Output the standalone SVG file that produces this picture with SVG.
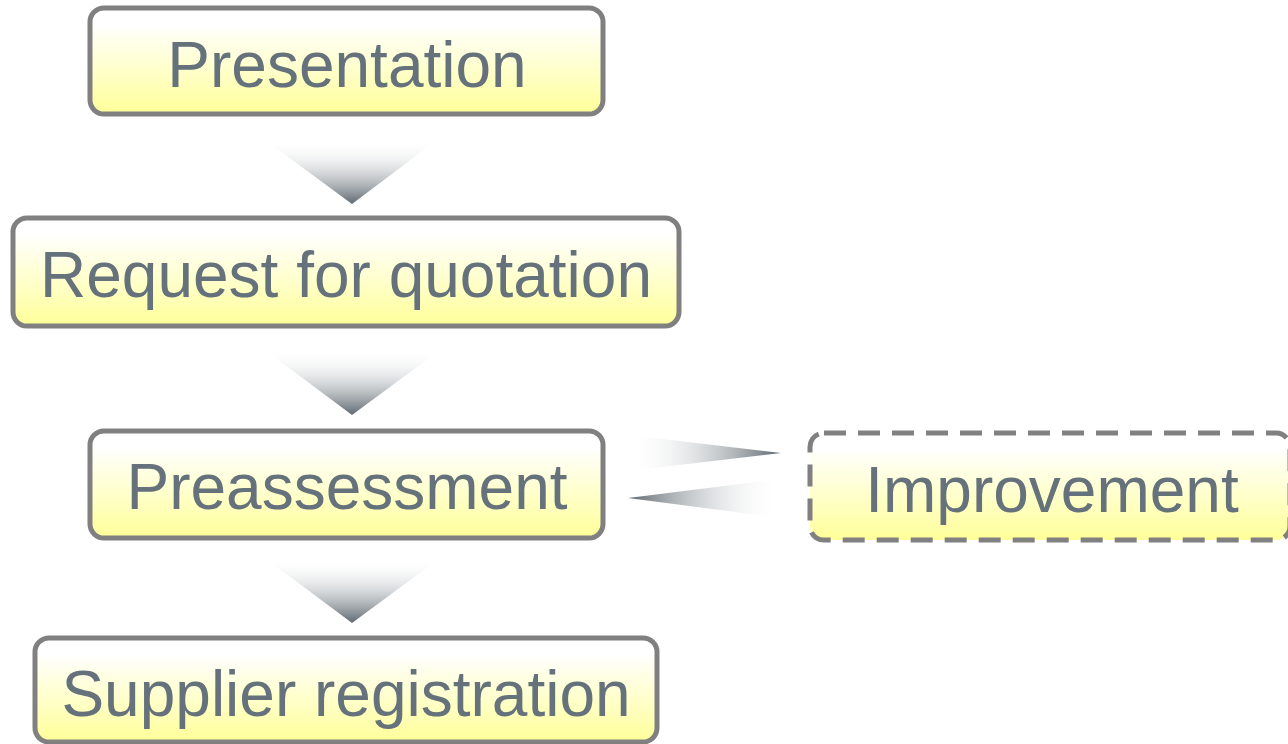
<svg xmlns="http://www.w3.org/2000/svg" width="1288" height="744" viewBox="0 0 1288 744">
<defs>
<linearGradient id="boxFill" x1="0" y1="0" x2="0" y2="1">
<stop offset="0" stop-color="#ffffff"/>
<stop offset="0.15" stop-color="#ffffff"/>
<stop offset="1" stop-color="#ffff99"/>
</linearGradient>
<linearGradient id="downArrow" x1="0" y1="0" x2="0" y2="1">
<stop offset="0" stop-color="#ffffff" stop-opacity="0"/>
<stop offset="1" stop-color="#5d6870"/>
</linearGradient>
<linearGradient id="rightArrow" x1="0" y1="0" x2="1" y2="0">
<stop offset="0" stop-color="#ffffff" stop-opacity="0"/>
<stop offset="1" stop-color="#5d6870"/>
</linearGradient>
<linearGradient id="leftArrow" x1="1" y1="0" x2="0" y2="0">
<stop offset="0" stop-color="#ffffff" stop-opacity="0"/>
<stop offset="1" stop-color="#5d6870"/>
</linearGradient>
</defs>
<style>
.box{fill:url(#boxFill);stroke:#808080;stroke-width:5}
.dash{stroke-dasharray:22 12}
.lbl{font-family:"Liberation Sans",Arial,sans-serif;font-size:64px;fill:#65727b;text-anchor:middle}
</style>
<rect width="1288" height="744" fill="#ffffff"/>
<g id="connectors">
<polygon points="265,140 437,140 352,204" fill="url(#downArrow)"/>
<polygon points="265,350 440,350 352,415" fill="url(#downArrow)"/>
<polygon points="265,558 440,558 352,623" fill="url(#downArrow)"/>
<polygon points="628,435 781,453 628,471" fill="url(#rightArrow)"/>
<polygon points="781,479 628,498 781,518" fill="url(#leftArrow)"/>
</g>
<g id="presentation">
<rect class="box" x="90" y="8" width="513" height="106" rx="14"/>
<text class="lbl" x="347" y="87">Presentation</text>
</g>
<g id="request">
<rect class="box" x="13" y="218" width="666" height="108" rx="14"/>
<text class="lbl" x="346" y="297">Request for quotation</text>
</g>
<g id="preassessment">
<rect class="box" x="90" y="431" width="513" height="107" rx="14"/>
<text class="lbl" x="347" y="509">Preassessment</text>
</g>
<g id="supplier">
<rect class="box" x="35" y="638" width="622" height="104" rx="14"/>
<text class="lbl" x="346" y="716">Supplier registration</text>
</g>
<g id="improvement">
<rect class="box dash" x="810" y="433" width="480" height="107" rx="14"/>
<text class="lbl" x="1052" y="512">Improvement</text>
</g>
</svg>
